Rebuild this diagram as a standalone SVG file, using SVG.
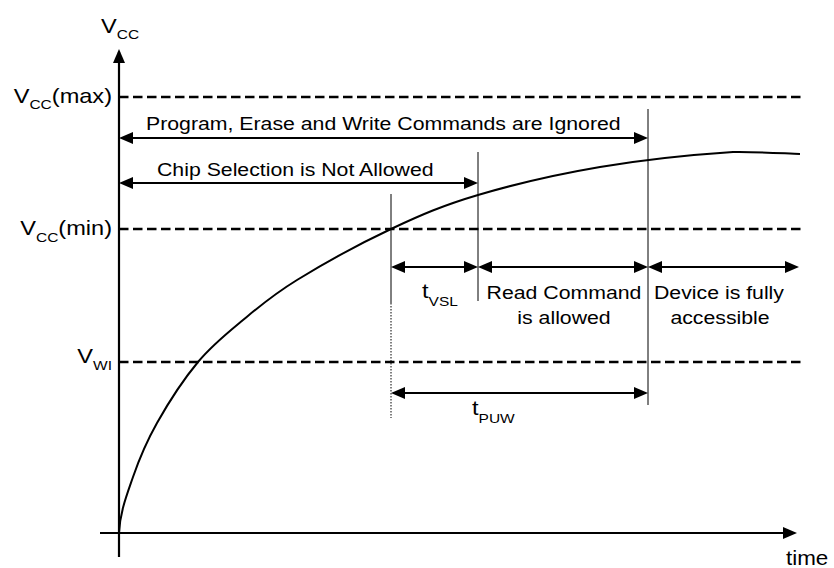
<svg xmlns="http://www.w3.org/2000/svg" width="834" height="568" viewBox="0 0 834 568">
<style>
  text { font-family: "Liberation Sans", Arial, sans-serif; fill: #000; }
  .lbl { font-size: 20.5px; }
  .mid { font-size: 18.5px; }
  .sub { font-size: 13.5px; }
  .axis { stroke: #000; stroke-width: 2.2; fill: none; }
  .dash { stroke: #000; stroke-width: 2.5; stroke-dasharray: 9.5 4.5; fill: none; }
  .dim { stroke: #000; stroke-width: 2; fill: none; marker-start: url(#ah); marker-end: url(#ah); }
  .tick { stroke: #000; stroke-width: 1; fill: none; }
  .dot { stroke: #000; stroke-width: 1; stroke-dasharray: 1.5 1.5; fill: none; }
  .curve { stroke: #000; stroke-width: 2; fill: none; }
</style>
<defs>
  <marker id="ah" markerUnits="userSpaceOnUse" markerWidth="14" markerHeight="12" refX="11" refY="6" orient="auto-start-reverse">
    <path d="M0,0 L14,6 L0,12 z" fill="#000"/>
  </marker>
</defs>

<g id="axes">
  <line class="axis" x1="119" y1="557" x2="119" y2="52" marker-end="url(#ah)"/>
  <line class="axis" x1="100" y1="533" x2="794" y2="533" marker-end="url(#ah)"/>
</g>

<g id="levels">
  <line class="dash" x1="119" y1="97" x2="802" y2="97"/>
  <line class="dash" x1="119" y1="229" x2="802" y2="229"/>
  <line class="dash" x1="119" y1="362" x2="802" y2="362"/>
</g>

<g id="curve">
  <path class="curve" d="M119,533 C120,512 126.7,495.3 133,477 C139.3,458.7 146.2,442.2 157,423 C167.8,403.8 183.7,379.2 198,362 C212.3,344.8 226.5,333.7 243,320 C259.5,306.3 272.3,295.2 297,280 C321.7,264.8 360.8,243.2 391,229 C421.2,214.8 443.2,205.3 478,195 C512.8,184.7 557.5,174.2 600,167 C642.5,159.8 699.7,154.2 733,152 C755,151.5 785,153.5 800,154"/>
</g>

<g id="markers">
  <line class="tick" x1="391" y1="194" x2="391" y2="303"/>
  <line class="dot" x1="391" y1="303" x2="391" y2="418"/>
  <line class="tick" x1="478" y1="152" x2="478" y2="301"/>
  <line class="tick" x1="648" y1="109" x2="648" y2="405"/>
</g>

<g id="connectors">
  <line class="dim" x1="122" y1="138" x2="645" y2="138"/>
  <line class="dim" x1="122" y1="183" x2="475" y2="183"/>
  <line class="dim" x1="394" y1="267" x2="475" y2="267"/>
  <line class="dim" x1="481" y1="267" x2="645" y2="267"/>
  <line class="dim" x1="651" y1="267" x2="796" y2="267"/>
  <line class="dim" x1="394" y1="393" x2="645" y2="393"/>
</g>

<g id="label-vcc-axis">
  <text class="lbl" transform="translate(101,33) scale(1.15,1)">V<tspan class="sub" dy="6">CC</tspan></text>
</g>
<g id="label-vccmax">
  <text class="lbl" text-anchor="end" transform="translate(112,103) scale(1.15,1)">V<tspan class="sub" dy="6">CC</tspan><tspan dy="-6">(max)</tspan></text>
</g>
<g id="label-vccmin">
  <text class="lbl" text-anchor="end" transform="translate(112,235) scale(1.15,1)">V<tspan class="sub" dy="7">CC</tspan><tspan dy="-7">(min)</tspan></text>
</g>
<g id="label-vwi">
  <text class="lbl" text-anchor="end" transform="translate(112,363) scale(1.15,1)">V<tspan class="sub" dy="7">WI</tspan></text>
</g>
<g id="label-time">
  <text class="lbl" style="font-size:20px" transform="translate(786,565) scale(1.12,1)">time</text>
</g>

<g id="node-ignored">
  <text class="mid" transform="translate(146,130) scale(1.15,1)">Program, Erase and Write Commands are Ignored</text>
</g>
<g id="node-chipsel">
  <text class="mid" transform="translate(157,175.5) scale(1.15,1)">Chip Selection is Not Allowed</text>
</g>
<g id="node-tvsl">
  <text class="lbl" transform="translate(422,298) scale(1.15,1)">t<tspan class="sub" dy="7.5">VSL</tspan></text>
</g>
<g id="node-read">
  <text class="mid" text-anchor="middle" transform="translate(564,299) scale(1.15,1)">Read Command</text>
  <text class="mid" text-anchor="middle" transform="translate(564,324) scale(1.15,1)">is allowed</text>
</g>
<g id="node-device">
  <text class="mid" text-anchor="middle" transform="translate(719,299) scale(1.15,1)">Device is fully</text>
  <text class="mid" text-anchor="middle" transform="translate(720,324) scale(1.15,1)">accessible</text>
</g>
<g id="node-tpuw">
  <text class="lbl" transform="translate(472,415) scale(1.15,1)">t<tspan class="sub" dy="7.5">PUW</tspan></text>
</g>
</svg>
